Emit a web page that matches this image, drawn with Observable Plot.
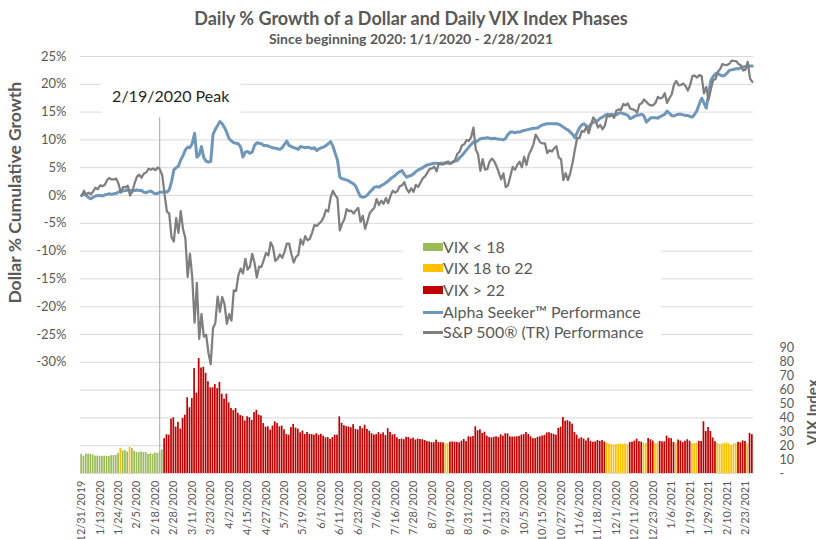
<!DOCTYPE html>
<html><head><meta charset="utf-8">
<script src="https://cdn.jsdelivr.net/npm/d3@7"></script>
<script src="https://cdn.jsdelivr.net/npm/@observablehq/plot@0.6"></script>
<style>
body{margin:0;background:#fff;font-family:Lato,sans-serif;}
#head{position:relative;width:816px;height:48px;}
#title{position:absolute;left:0;top:7px;width:822px;text-align:center;font-weight:bold;font-size:18px;line-height:22px;color:#595959;}
#subtitle{position:absolute;left:0;top:30px;width:822px;text-align:center;font-weight:bold;font-size:14px;line-height:18px;color:#595959;}
#chart{position:relative;width:816px;height:491px;}
#chart svg{position:absolute;left:0;top:0;}
#legend{position:absolute;left:403px;top:182px;width:258px;height:115px;background:#fff;}
.row{position:absolute;left:0;height:20px;line-height:20px;font-size:16px;color:#595959;white-space:nowrap;}
.sw{position:absolute;left:20px;width:20px;}
.lab{position:absolute;left:40px;top:0;}
</style></head>
<body>
<div id="head"><div id="title">Daily % Growth of a Dollar and Daily VIX Index Phases</div>
<div id="subtitle">Since beginning 2020: 1/1/2020 - 2/28/2021</div></div>
<div id="chart"></div>
<script>
// ---- data ----
const holidays = ["2020-01-01","2020-01-20","2020-02-17","2020-04-10","2020-05-25","2020-07-03","2020-09-07","2020-11-26","2020-12-25","2021-01-01","2021-01-18","2021-02-15"];
const firstDay = "2019-12-31", lastDay = "2021-02-26";

const vix = [13.78,
12.47,14.02,13.85,13.79,13.45,12.54,12.56,12.32,12.39,12.42,12.32,12.10,12.85,12.91,12.98,14.56,18.23,16.28,16.39,15.49,18.84,
17.97,16.05,15.15,14.96,15.47,15.04,15.18,13.74,14.15,13.68,14.83,14.38,15.56,17.08,25.03,27.85,27.56,39.16,40.11,
33.42,36.82,31.99,39.62,41.94,54.46,47.30,53.90,75.47,57.83,82.69,75.91,76.45,72.00,66.04,61.59,61.67,63.95,61.00,65.54,57.08,53.54,
57.06,50.91,46.80,45.24,46.70,43.35,41.67,41.17,37.76,40.84,40.11,38.15,43.83,45.41,41.98,41.38,35.93,33.29,33.57,31.23,34.15,
37.19,35.97,33.61,34.12,31.44,27.98,27.57,33.04,35.28,32.61,31.89,29.30,30.53,27.99,29.53,28.16,28.01,27.62,28.59,27.51,
28.23,26.84,25.66,25.81,24.52,25.81,27.57,27.57,40.79,36.09,34.40,33.67,33.47,32.94,35.12,31.77,31.37,33.84,32.22,34.73,31.78,30.43,
28.62,27.68,27.94,29.43,28.08,29.26,27.29,32.19,29.52,27.76,28.00,25.68,24.46,24.84,24.32,26.08,25.84,24.74,25.44,24.10,24.76,24.46,
24.28,23.76,22.99,22.65,22.21,22.13,24.03,22.28,22.13,22.05,21.35,21.51,22.54,22.72,22.54,22.37,22.03,23.27,24.47,22.96,26.41,
26.12,26.57,33.60,30.75,31.46,28.81,29.71,26.87,25.85,25.59,26.04,26.46,25.83,27.78,26.86,28.58,28.51,26.38,26.19,26.27,26.37,
26.70,27.63,27.96,29.48,28.06,26.36,25.00,25.07,26.07,26.40,26.97,27.41,29.18,29.35,28.65,28.11,27.55,32.46,33.35,40.28,37.59,38.02,
37.13,35.55,29.57,27.58,24.86,25.75,24.80,23.45,25.35,23.10,22.45,22.71,23.84,23.11,23.70,22.66,21.64,21.25,20.84,20.57,
20.77,21.17,21.28,20.79,21.30,20.68,22.27,22.52,23.31,24.72,22.89,22.50,21.93,21.57,25.16,24.23,23.31,21.53,21.70,23.08,22.77,22.75,
26.97,25.34,25.07,22.37,21.56,24.08,23.33,22.21,23.25,24.34,23.24,21.58,21.32,21.91,23.19,23.02,37.21,30.21,33.09,
30.24,25.56,22.91,21.77,20.87,21.24,21.63,21.99,21.25,19.97,21.46,21.50,22.49,22.05,23.45,23.11,21.34,28.89,27.95];

const alphaSeeker = [0.0,
0.2,0.0,-0.4,-0.6,-0.3,-0.1,0.0,0.0,-0.1,0.1,0.2,0.3,0.2,0.3,0.4,0.6,0.9,0.8,0.9,1.0,
0.9,0.8,0.9,1.0,0.9,0.9,0.6,0.5,0.7,0.8,0.5,0.3,0.4,0.6,0.6,0.7,0.6,1.0,2.5,
4.6,5.0,5.3,6.4,7.2,8.2,8.7,8.6,9.4,11.2,6.9,7.3,8.8,6.8,6.2,6.0,6.1,11.0,11.9,12.6,13.3,12.9,
12.2,11.3,10.2,9.8,9.5,9.4,9.3,8.7,6.9,7.8,7.9,7.6,7.8,9.0,9.5,9.4,9.3,9.0,9.0,8.9,
8.7,8.6,8.5,8.4,8.3,8.6,9.2,9.8,9.0,8.8,8.6,8.5,8.3,8.8,8.7,8.6,8.7,8.6,8.4,8.6,
8.1,8.4,8.6,8.7,9.0,9.3,9.7,8.9,7.6,6.4,3.3,3.0,2.9,2.8,2.6,2.3,2.1,1.6,0.6,-0.2,-0.3,-0.2,
0.1,0.6,1.0,1.5,1.6,1.5,1.8,2.0,2.3,2.6,3.0,3.3,3.6,4.0,4.3,4.5,3.8,3.3,3.5,3.6,3.9,4.3,
4.6,4.8,5.0,5.3,5.5,5.6,5.7,5.8,5.8,5.7,5.8,5.8,5.9,5.8,5.8,6.0,6.2,6.3,6.8,7.2,7.7,
8.2,8.7,9.2,9.6,9.6,9.9,10.2,10.3,10.3,10.4,10.3,10.2,10.3,10.2,10.1,10.1,10.0,10.3,11.0,11.4,11.4,
11.3,11.4,11.4,11.6,11.7,11.8,11.9,12.0,12.1,12.1,12.2,12.5,12.7,12.8,12.9,12.9,12.9,12.9,12.9,12.8,12.6,12.3,
12.0,11.8,11.4,11.0,10.4,11.3,12.2,12.7,12.9,12.5,12.3,12.8,13.2,13.2,13.5,13.9,14.1,14.4,14.6,14.5,
14.6,14.4,14.5,14.8,14.9,14.7,14.6,14.4,13.8,14.0,14.3,14.4,14.5,14.6,14.3,13.2,13.6,14.0,14.0,14.0,13.9,14.2,
14.4,14.6,15.2,14.8,14.4,14.3,14.5,14.6,14.6,14.5,14.4,14.4,14.2,14.1,14.6,15.3,16.5,17.5,16.6,
15.7,18.2,20.7,21.4,21.9,22.0,21.7,21.5,21.6,22.0,22.5,22.6,22.7,22.8,22.8,23.0,23.1,23.2,23.2,23.3,23.3];

const sp500 = [0.00,
0.85,0.14,0.50,0.23,0.73,1.40,1.12,1.83,1.69,1.88,2.74,3.15,2.88,2.91,3.04,2.12,0.52,1.54,1.46,1.78,-0.01,
0.72,2.24,3.39,3.74,3.19,3.95,4.13,4.81,4.65,4.85,4.55,5.05,4.66,3.56,0.11,-2.91,-3.27,-7.52,-8.27,
-4.05,-6.73,-2.80,-6.08,-7.67,-14.66,-10.45,-14.80,-22.87,-15.73,-25.77,-21.35,-25.39,-25.03,-28.27,-30.35,-23.84,-22.96,-18.17,-20.91,-18.26,-19.56,
-23.07,-21.32,-22.50,-17.07,-17.20,-14.38,-13.15,-14.01,-11.39,-13.33,-12.82,-10.49,-12.08,-14.75,-12.80,-12.84,-11.63,-10.33,-10.79,-8.43,-9.25,
-11.77,-11.39,-10.59,-11.21,-10.18,-8.67,-8.65,-10.51,-12.05,-11.04,-10.68,-7.89,-8.84,-7.32,-8.04,-7.81,-6.68,-5.30,-5.49,-5.03,
-4.66,-3.88,-2.57,-2.89,-0.36,0.84,0.07,-0.46,-6.27,-5.04,-4.26,-2.45,-2.79,-2.73,-3.27,-2.64,-2.22,-4.72,-3.67,-5.98,-4.61,-3.14,
-2.64,-2.20,-0.65,-1.71,-0.94,-1.49,-0.46,-1.38,-0.06,0.85,0.51,0.80,1.65,1.82,2.41,1.17,0.55,1.30,0.66,1.90,1.53,2.31,
3.08,3.45,4.12,4.80,4.87,5.17,4.34,5.80,5.60,5.59,5.88,6.13,5.67,6.01,6.38,7.50,7.90,9.00,9.20,10.00,9.80,
10.50,12.21,8.27,7.40,4.43,6.54,4.67,4.73,6.08,6.64,6.15,5.27,4.10,2.90,3.98,1.52,1.84,3.47,5.14,4.64,5.52,
6.09,5.08,6.97,5.49,7.33,8.19,9.16,10.95,10.25,9.53,9.38,9.39,7.62,8.14,7.90,8.47,8.86,6.84,6.52,2.78,4.01,2.75,
4.04,5.89,8.23,10.35,10.32,11.63,11.47,12.33,11.22,12.75,14.06,13.52,12.22,12.67,11.90,12.55,14.37,14.20,14.49,13.96,
15.28,15.48,15.42,16.46,16.22,16.56,15.65,15.50,15.36,14.88,16.36,16.58,17.26,16.85,16.41,16.17,16.25,16.68,17.71,17.46,17.63,18.40,
16.66,17.50,18.17,19.94,20.61,19.82,19.88,20.16,19.71,18.87,19.85,21.51,21.56,21.21,21.65,21.47,18.37,19.53,17.22,
19.12,20.77,20.91,22.24,22.72,23.64,23.51,23.46,23.68,24.27,24.20,24.17,23.65,23.41,22.47,22.64,24.03,21.01,20.44];

const phases = ["VIX < 18", "VIX 18 to 22", "VIX > 22"];
const phaseColors = ["#9bbb59", "#ffc000", "#c00000"];
const lineNames = ["Alpha Seeker\u2122 Performance", "S&P 500\u00ae (TR) Performance"];
const lineColors = ["#6f97ba", "#7f7f7f"];
const leftTicks = [-30,-25,-20,-15,-10,-5,0,5,10,15,20,25];
const vixTicks = [0,10,20,30,40,50,60,70,80,90];
const peakDate = "2/19/2020";
const peakLabel = "2/19/2020 Peak";

// ---- trading-day categories ----
const dates = [];
for (let d = new Date(firstDay + "T00:00:00Z"); d <= new Date(lastDay + "T00:00:00Z"); d.setUTCDate(d.getUTCDate() + 1)) {
  const wd = d.getUTCDay(), iso = d.toISOString().slice(0, 10);
  if (wd === 0 || wd === 6 || holidays.includes(iso)) continue;
  dates.push(`${d.getUTCMonth() + 1}/${d.getUTCDate()}/${d.getUTCFullYear()}`);
}
const tickDates = dates.filter((d, i) => i % 8 === 0);
const phase = v => v < 18 ? phases[0] : v <= 22 ? phases[1] : phases[2];
const rows = dates.map((date, i) => ({date, vix: vix[i], alpha: alphaSeeker[i], sp: sp500[i]}));

const common = {
  width: 816, height: 491, marginTop: 8, marginBottom: 66, marginLeft: 80, marginRight: 63,
  style: {fontFamily: "Lato, sans-serif", fontSize: "12px", color: "#595959", background: "transparent", overflow: "visible"}
};

const bottomPlot = Plot.plot({
  ...common,
  x: {type: "band", domain: dates, padding: 0, label: null},
  y: {domain: [0, 300], label: null},
  color: {domain: phases, range: phaseColors},
  marks: [
    Plot.gridY(d3.range(0, 301, 20), {stroke: "#d9d9d9", strokeOpacity: 1}),
    Plot.barY(rows, {x: "date", y: "vix", fill: d => phase(d.vix), insetLeft: 0.3, insetRight: 0.3}),
    Plot.axisX({ticks: tickDates, tickRotate: -90, tickSize: 0, tickPadding: 7, fontSize: 11, label: null}),
    Plot.axisY({anchor: "right", ticks: vixTicks, tickFormat: d => d === 0 ? "-" : String(d), tickSize: 0, tickPadding: 26, fontSize: 12.5, label: null}),
    Plot.text(["VIX Index"], {text: d => d, y: () => 44, frameAnchor: "right", textAnchor: "middle", dx: 60, rotate: -90, fontWeight: "bold", fontSize: 15, fill: "#595959"})
  ]
});

const topPlot = Plot.plot({
  ...common,
  x: {type: "band", domain: dates, padding: 0, axis: null, label: null},
  y: {domain: [-50, 25], label: null},
  marks: [
    Plot.text([peakLabel], {text: d => d, x: () => peakDate, y: () => 17.8, dx: 13, fontSize: 16, fill: "white", stroke: "white", strokeWidth: 30}),
    Plot.ruleX([peakDate], {y1: -50, y2: 14, stroke: "#a6a6a6", strokeWidth: 1, dx: 2}),
    Plot.text([peakLabel], {text: d => d, x: () => peakDate, y: () => 17.8, dx: 13, fontSize: 16, fill: "#262626"}),
    Plot.lineY(rows, {x: "date", y: "alpha", stroke: lineColors[0], strokeWidth: 3}),
    Plot.lineY(rows, {x: "date", y: "sp", stroke: lineColors[1], strokeWidth: 2.25}),
    Plot.axisY({ticks: leftTicks, tickFormat: d => d + "%", tickSize: 0, tickPadding: 14, fontSize: 13, label: null}),
    Plot.text(["Dollar % Cumulative Growth"], {text: d => d, y: () => 0.5, frameAnchor: "left", textAnchor: "middle", dx: -65, rotate: -90, fontWeight: "bold", fontSize: 17.5, fill: "#595959"})
  ]
});

const chart = document.getElementById("chart");
chart.appendChild(bottomPlot);
// legend (between the two layers)
const legend = document.createElement("div");
legend.id = "legend";
const items = [
  ...phases.map((p, i) => ({label: p, color: phaseColors[i], kind: "rect"})),
  ...lineNames.map((p, i) => ({label: p, color: lineColors[i], kind: "line", w: i === 0 ? 3 : 2.5}))
];
const rowCenters = [16.7, 38.3, 60, 82.3, 102.3];
items.forEach((it, i) => {
  const r = document.createElement("div");
  r.className = "row";
  r.style.top = (rowCenters[i] - 10) + "px";
  const sw = document.createElement("div");
  sw.className = "sw";
  if (it.kind === "rect") { sw.style.top = "6px"; sw.style.height = "8px"; }
  else { sw.style.top = (10 - it.w / 2) + "px"; sw.style.height = it.w + "px"; }
  sw.style.background = it.color;
  const lb = document.createElement("div");
  lb.className = "lab";
  lb.textContent = it.label;
  r.appendChild(sw); r.appendChild(lb);
  legend.appendChild(r);
});
chart.appendChild(legend);
chart.appendChild(topPlot);
</script>
</body></html>
